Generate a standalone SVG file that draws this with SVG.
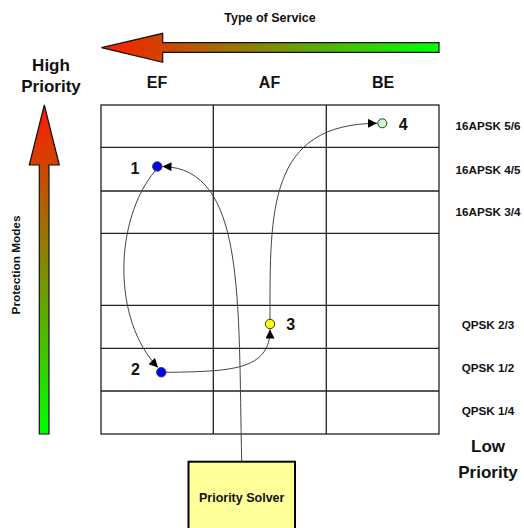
<svg xmlns="http://www.w3.org/2000/svg" width="524" height="528" viewBox="0 0 524 528">
<defs>
<linearGradient id="gH" x1="101" y1="0" x2="439" y2="0" gradientUnits="userSpaceOnUse">
<stop offset="0" stop-color="#ff1a00"/><stop offset="1" stop-color="#00ff00"/>
</linearGradient>
<linearGradient id="gV" x1="0" y1="105" x2="0" y2="434" gradientUnits="userSpaceOnUse">
<stop offset="0" stop-color="#ff1a00"/><stop offset="1" stop-color="#00ff00"/>
</linearGradient>
<marker id="ah" viewBox="0 0 10 10" refX="10" refY="5" markerWidth="11" markerHeight="9" markerUnits="userSpaceOnUse" orient="auto">
<path d="M0,0 L10,5 L0,10 z" fill="#000"/>
</marker>
</defs>
<style>
text{font-family:"Liberation Sans",Arial,sans-serif;font-weight:bold;fill:#111}
.grid{stroke:#222;stroke-width:1.3;fill:none}
.conn{stroke:#444;stroke-width:1;fill:none;marker-end:url(#ah)}
.pt{stroke:#333;stroke-width:1}
.hdr{font-size:16px;text-anchor:middle}
.mode{font-size:11.7px;text-anchor:middle}
.pri{font-size:17px;text-anchor:middle}
.num{font-size:16px;text-anchor:middle}
</style>
<rect width="524" height="528" fill="#fff"/>

<g id="type-of-service">
<text x="270" y="22" font-size="12.5" text-anchor="middle">Type of Service</text>
<polygon points="101.5,47.7 162.7,33.3 162.7,42.7 439,42.7 439,52.3 162.7,52.3 162.7,62.3" fill="url(#gH)" stroke="#111" stroke-width="1.2" stroke-linejoin="miter"/>
</g>

<g id="protection-modes">
<polygon points="44.3,105 59.3,165 49,165 49,434 39.3,434 39.3,165 29.3,165" fill="url(#gV)" stroke="#111" stroke-width="1.2"/>
<text transform="translate(20,265) rotate(-90)" font-size="11.8" text-anchor="middle">Protection Modes</text>
</g>

<g id="high-priority">
<text class="pri" x="51" y="70.5">High</text>
<text class="pri" x="51" y="91.5">Priority</text>
</g>
<g id="low-priority">
<text class="pri" x="488" y="452">Low</text>
<text class="pri" x="488" y="478">Priority</text>
</g>

<g id="headers">
<text class="hdr" x="157" y="88">EF</text>
<text class="hdr" x="269.5" y="88">AF</text>
<text class="hdr" x="383" y="88">BE</text>
</g>

<g id="modes">
<text class="mode" x="488" y="130">16APSK 5/6</text>
<text class="mode" x="488" y="173.5">16APSK 4/5</text>
<text class="mode" x="488" y="215.5">16APSK 3/4</text>
<text class="mode" x="488" y="329">QPSK 2/3</text>
<text class="mode" x="488" y="372">QPSK 1/2</text>
<text class="mode" x="488" y="415">QPSK 1/4</text>
</g>

<g id="grid">
<rect class="grid" x="101" y="105" width="338" height="329"/>
<path class="grid" d="M213.3,105V434 M326.3,105V434 M101,147.3H439 M101,191H439 M101,233.3H439 M101,305.3H439 M101,348.3H439 M101,391H439"/>
</g>

<g id="connectors">
<path class="conn" d="M241.7,461.5 C238,300 246,168 162.5,166.5"/>
<path class="conn" d="M155,171 C114,220 112,320 158,367.5"/>
<path class="conn" d="M166,372.3 C232,371.5 270,370 270,329.5"/>
<path class="conn" d="M270,319 C270,210 268,124 377,123.3"/>
</g>

<g id="p1"><circle class="pt" cx="157.3" cy="166.5" r="4.7" fill="#0000ff"/><text class="num" x="135" y="173.5">1</text></g>
<g id="p2"><circle class="pt" cx="161.3" cy="372.3" r="4.7" fill="#0000ff"/><text class="num" x="135.5" y="374.5">2</text></g>
<g id="p3"><circle class="pt" cx="270" cy="324" r="4.7" fill="#ffff00"/><text class="num" x="290.7" y="330">3</text></g>
<g id="p4"><circle class="pt" cx="382.3" cy="123.3" r="4.5" fill="#ccffcc"/><text class="num" x="403.3" y="130">4</text></g>

<g id="priority-solver">
<rect x="188.5" y="461.7" width="106.5" height="80" fill="#ffff99" stroke="#000" stroke-width="2"/>
<text x="241.7" y="502" font-size="12.5" text-anchor="middle">Priority Solver</text>
</g>
</svg>
